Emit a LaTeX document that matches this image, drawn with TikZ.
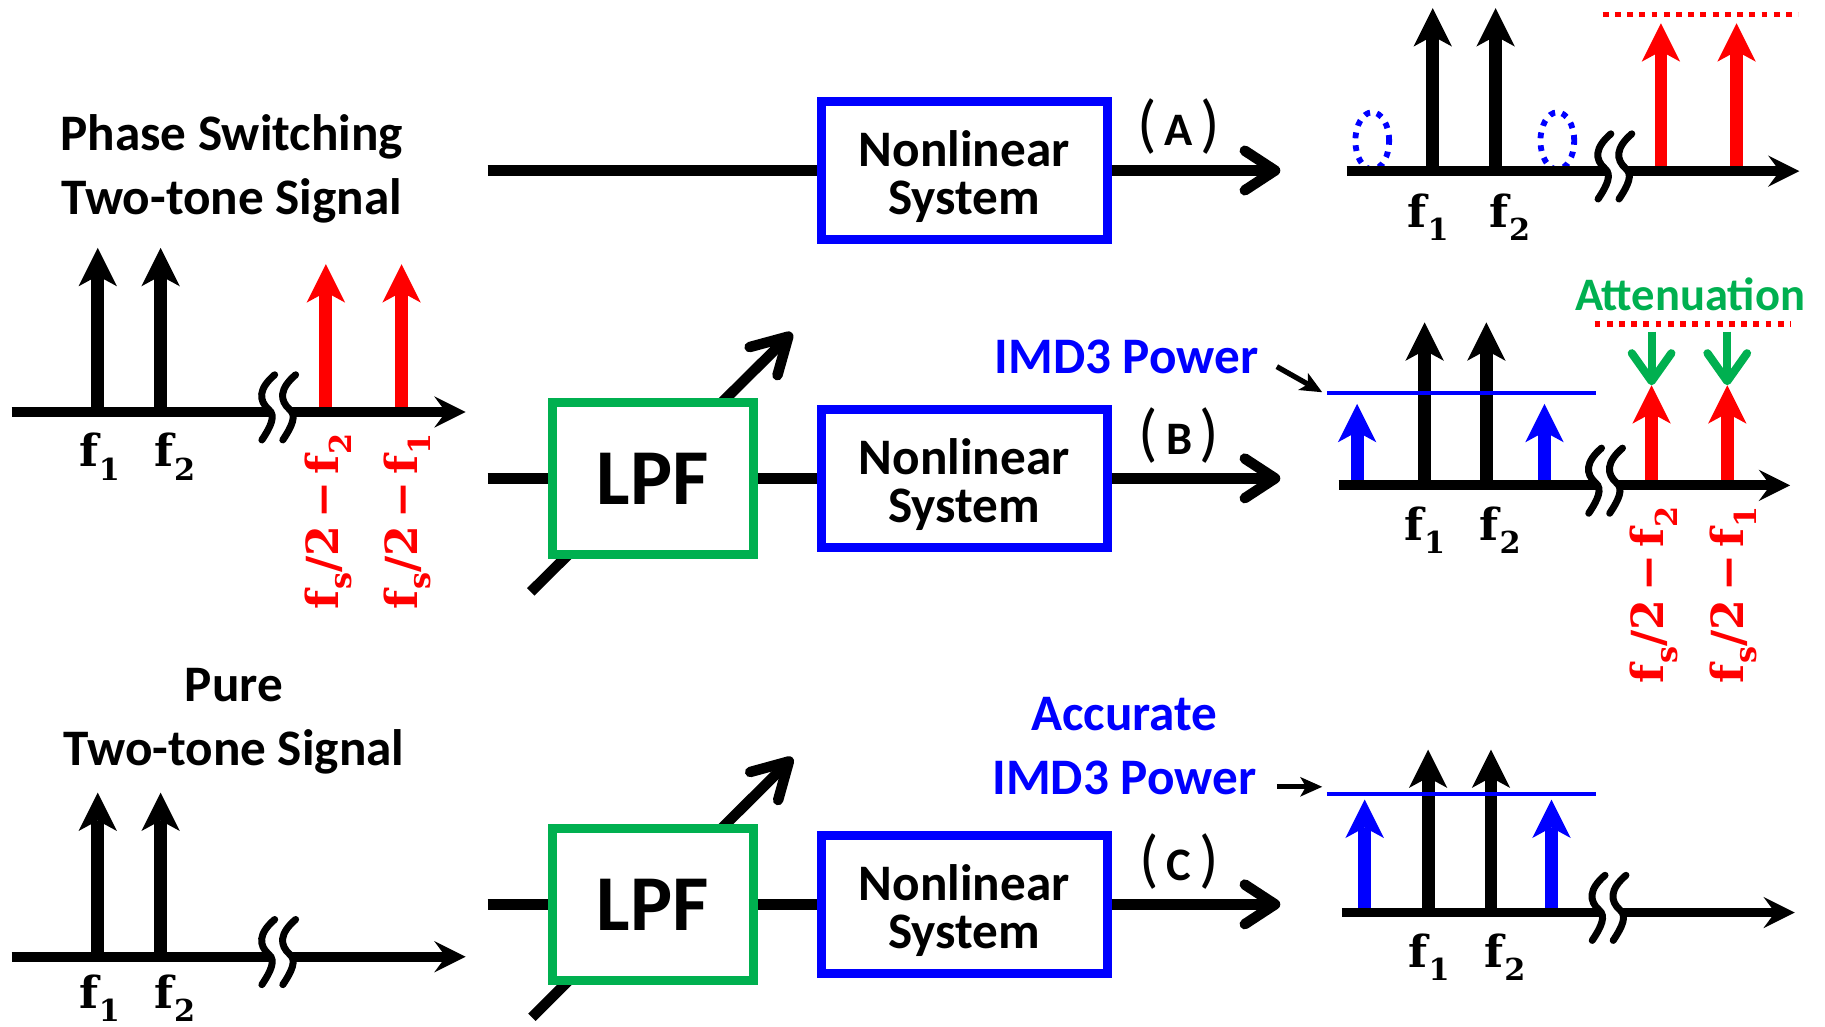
\documentclass[tikz,border=0pt]{standalone}
\usepackage{fontspec}
\setmainfont{Carlito}
\newfontfamily\frqfont{DejaVu Serif}
\usetikzlibrary{arrows.meta, positioning}
\definecolor{attgreen}{RGB}{0,176,80}
\newcommand{\fq}[2]{#1\kern.02em\raisebox{-.3em}{\fontsize{26}{26}\selectfont #2}}
\newcommand{\fsh}[1]{\fq{f}{s}/2\,−\,\fq{f}{#1}}
\newcommand{\ptag}[1]{{\mdseries\fontsize{55}{55}\selectfont(}\,#1\,{\mdseries\fontsize{55}{55}\selectfont)}}
\newcommand{\nltext}{\rule{0pt}{41pt}Nonlinear\\System}
\tikzset{
  >={Stealth[length=33pt, width=33pt, inset=9pt, line width=0pt]},
  sig/.style={draw=black, line width=9pt},
  sig out/.style={sig, -{Straight Barb[length=26pt, width=34pt, round]}},
  tune arrow/.style={sig, -{Straight Barb[length=30pt, width=34pt, round]}},
  nl box/.style={draw=blue, fill=white, line width=7.5pt, minimum width=245.5pt,
    minimum height=118.5pt, inner sep=0pt, align=center,
    font=\fontsize{44}{41}\selectfont\bfseries},
  lpf box/.style={draw=attgreen, fill=white, line width=7.5pt, minimum width=172.5pt,
    minimum height=130.5pt, inner sep=0pt, font=\fontsize{68}{68}\selectfont\bfseries},
  path tag/.style={inner sep=0pt, font=\fontsize{40}{40}\selectfont\bfseries},
  sig title/.style={inner sep=0pt, align=center, font=\fontsize{44}{55}\selectfont\bfseries},
  note/.style={sig title, text=blue},
  att text/.style={inner sep=0pt, text=attgreen, font=\fontsize{40}{40}\selectfont\bfseries},
  sp axis/.style={draw=black, line width=8.5pt},
  sp head/.style={sp axis, -{Stealth[length=27pt, width=27pt, inset=10pt, line width=0pt]}},
  sp tone/.style={line width=11pt, ->},
  sp mark/.style={draw=black, line width=6pt, line cap=round},
  sp brk/.pic={
    \draw[sp mark] (5,-32) .. controls (-9,-20) and (-9,-10) .. (0,-2)
      .. controls (6,3) and (2,12) .. (-6,24);
    \draw[sp mark] (23,-32) .. controls (9,-20) and (9,-10) .. (18,-2)
      .. controls (24,3) and (20,12) .. (12,24);
  },
  level dots/.style={draw=red, line width=5pt, dash pattern=on 5pt off 5.5pt},
  lost tone/.style={draw=blue, line width=5pt, dash pattern=on 5pt off 6pt},
  imd level/.style={draw=blue, line width=3.5pt},
  pointer/.style={line width=4.5pt, -{Stealth[length=19pt, width=17pt, inset=5pt, line width=0pt]}},
  att arrow/.style={draw=attgreen, line width=7pt, -{Straight Barb[length=24pt, width=34pt, round]}},
  frq/.style={inner sep=0pt, font=\frqfont\bfseries\fontsize{38}{38}\selectfont},
}
\begin{document}
\begin{tikzpicture}[x=1pt, y=-1pt]
\useasboundingbox (0,0) rectangle (1568,882);

% phase switching input spectrum
\node[sig title] (psTitle) at (199,145) {Phase Switching\\Two-tone Signal};
\draw[sp tone] (84,350) -- (84,213);
\draw[sp tone] (138,350) -- (138,213);
\draw[sp tone, red] (280,350) -- (280,227);
\draw[sp tone, red] (345,350) -- (345,227);
\draw[sp axis] (10,354) -- (231,354);
\pic at (231,354) {sp brk};
\draw[sp head] (251,354) -- (400,354);
\node[frq, anchor=north] at (85.5,372) {\fq{f}{1}};
\node[frq, anchor=north] at (150,372) {\fq{f}{2}};
\node[frq, red, rotate=90, anchor=east] at (282,372) {\fsh{2}};
\node[frq, red, rotate=90, anchor=east] at (350,372) {\fsh{1}};

% pure input spectrum
\node[sig title] (pureTitle) at (201,620) {Pure\\Two-tone Signal};
\draw[sp tone] (84,818) -- (84,681);
\draw[sp tone] (138,818) -- (138,681);
\draw[sp axis] (10,822) -- (231,822);
\pic at (231,822) {sp brk};
\draw[sp head] (251,822) -- (400,822);
\node[frq, anchor=north] at (85.5,837) {\fq{f}{1}};
\node[frq, anchor=north] at (150,837) {\fq{f}{2}};

% blocks
\coordinate (tunB0) at (456,508.5);
\coordinate (tunB1) at (680.5,286);
\draw[tune arrow] (tunB0) -- (tunB1);
\node[lpf box] (lpfB) at (561,411) {LPF};
\node[nl box, right=51pt of lpfB] (sysB) {\nltext};
\node[nl box, above=138.5pt of sysB] (sysA) {\nltext};

\coordinate (tunC0) at (457,874);
\coordinate (tunC1) at (681,651);
\draw[tune arrow] (tunC0) -- (tunC1);
\node[lpf box] (lpfC) at (561,777) {LPF};
\node[nl box, right=51pt of lpfC] (sysC) {\nltext};

\coordinate (inA) at (419,146.5);
\coordinate (outA) at (1100,146.5);
\coordinate (inB) at (419,411);
\coordinate (outB) at (1100,411);
\coordinate (inC) at (419,777);
\coordinate (outC) at (1100,777);

\draw[sig] (inA) -- (sysA);
\draw[sig out] (sysA) -- node[path tag, pos=.4, yshift=38pt]{\ptag{A}} (outA);
\draw[sig] (inB) -- (lpfB);
\draw[sig] (lpfB) -- (sysB);
\draw[sig out] (sysB) -- node[path tag, pos=.4, yshift=37pt]{\ptag{B}} (outB);
\draw[sig] (inC) -- (lpfC);
\draw[sig] (lpfC) -- (sysC);
\draw[sig out] (sysC) -- node[path tag, pos=.4, yshift=37pt]{\ptag{C}} (outC);

% (A) output spectrum
\draw[level dots] (1377,12.5) -- (1545,12.5);
\draw[lost tone] (1179,121) ellipse [x radius=14.5pt, y radius=24.5pt];
\draw[lost tone] (1338,121) ellipse [x radius=14.5pt, y radius=24.5pt];
\draw[sp tone] (1231,143) -- (1231,7);
\draw[sp tone] (1285,143) -- (1285,7);
\draw[sp tone, red] (1427,143) -- (1427,20);
\draw[sp tone, red] (1492,143) -- (1492,20);
\draw[sp axis] (1157,147) -- (1379,147);
\pic at (1379,147) {sp brk};
\draw[sp head] (1399,147) -- (1546,147);
\node[frq, anchor=north] at (1227,166) {\fq{f}{1}};
\node[frq, anchor=north] at (1297,166) {\fq{f}{2}};

% (B) output spectrum
\node[note] (imdB) at (968,307) {IMD3 Power};
\coordinate (ptrB) at (1097,315);
\coordinate (lvlB) at (1136,337);
\draw[pointer] (ptrB) -- (lvlB);
\node[att text] (att) at (1452,253) {Attenuation};
\draw[level dots] (1370,278.5) -- (1539,278.5);
\draw[att arrow] (1419,285) -- (1419,331);
\draw[att arrow] (1484,285) -- (1484,331);
\draw[sp tone, blue] (1166,413) -- (1166,347);
\draw[sp tone, blue] (1327,413) -- (1327,347);
\draw[sp tone] (1224,413) -- (1224,277);
\draw[sp tone] (1277,413) -- (1277,277);
\draw[sp tone, red] (1419,413) -- (1419,331);
\draw[sp tone, red] (1484,413) -- (1484,331);
\draw[imd level] (1140,337.5) -- (1371,337.5);
\draw[sp axis] (1150,417) -- (1371,417);
\pic at (1371,417) {sp brk};
\draw[sp head] (1391,417) -- (1538,417);
\node[frq, anchor=north] at (1224,435) {\fq{f}{1}};
\node[frq, anchor=north] at (1289,435) {\fq{f}{2}};
\node[frq, red, rotate=90, anchor=east] at (1421,435) {\fsh{2}};
\node[frq, red, rotate=90, anchor=east] at (1489,435) {\fsh{1}};

% (C) output spectrum
\node[note] (imdC) at (966,641) {Accurate\\IMD3 Power};
\coordinate (ptrC) at (1097,676);
\coordinate (lvlC) at (1136,676);
\draw[pointer] (ptrC) -- (lvlC);
\draw[sp tone, blue] (1172.5,780) -- (1172.5,687);
\draw[sp tone, blue] (1333,780) -- (1333,687);
\draw[sp tone] (1227,780) -- (1227,644);
\draw[sp tone] (1281,780) -- (1281,644);
\draw[imd level] (1140,682) -- (1371,682);
\draw[sp axis] (1153,784) -- (1374,784);
\pic at (1374,784) {sp brk};
\draw[sp head] (1394,784) -- (1542,784);
\node[frq, anchor=north] at (1228,802) {\fq{f}{1}};
\node[frq, anchor=north] at (1293,802) {\fq{f}{2}};
\end{tikzpicture}
\end{document}
